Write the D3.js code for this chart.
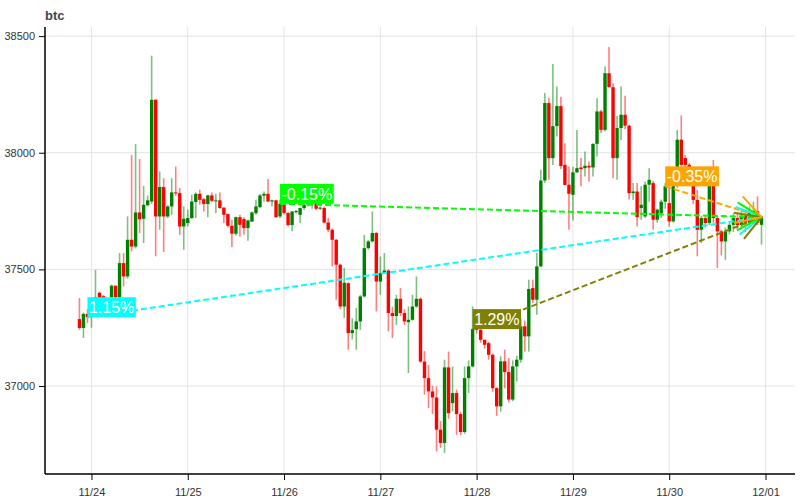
<!DOCTYPE html>
<html><head><meta charset="utf-8">
<script src="https://cdn.jsdelivr.net/npm/d3@7"></script>
<style>body{margin:0;background:#fff;}svg{display:block;font-family:"Liberation Sans",Arial,sans-serif;}</style>
</head><body>
<svg id="chart" width="800" height="500"></svg>
<script>
// hourly candles starting 2023-11-23 21:00 UTC
const startHour = [2023, 10, 23, 21];
const open = [37287,37249,37309,37295,37350,37400,37385,37370,37381,37430,37381,37527,37470,37627,37598,37744,37717,37775,37791,38227,37727,37853,37727,37770,37830,37827,37684,37699,
37720,37789,37824,37801,37780,37817,37794,37796,37765,37737,37687,37653,37724,37716,37677,37705,37741,37767,37816,37824,37791,37796,37727,37781,
37742,37690,37745,37734,37763,37775,37787,37790,37760,37763,37701,37670,37627,37520,37341,37441,37227,37244,37277,37384,37591,37620,37656,
37448,37484,37495,37313,37300,37374,37313,37274,37284,37341,37374,37105,37034,36977,36951,36813,36756,37080,36927,36970,36880,36803,37034,37084,
37246,37241,37198,37184,37134,36991,36913,37106,37060,36942,37084,37113,37256,37213,37420,37370,37513,37881,38213,37977,38114,38200,37948,37863,37820,
37916,37937,37934,37944,37937,38038,38177,38098,38341,38281,37977,38106,38163,38116,37827,37834,
37763,37727,37863,37870,37713,37741,37790,37784,37706,37863,38056,37977,37948,37899,37798,37670,37720,37699,37884,37720,37663,37620,37663,37691,37720,37690,37730,37700,37745,37750,37691];
const high = [37377,37315,37330,37370,37498,37405,37390,37378,37435,37432,37570,37570,37727,37991,38037,37973,37858,37817,38416,38230,37920,37891,37775,37891,37941,37849,37770,37756,
37820,37830,37841,37806,37820,37830,37824,37830,37765,37740,37713,37726,37734,37724,37713,37748,37798,37823,37834,37888,37798,37798,37800,37790,
37745,37750,37755,37765,37790,37820,37815,37795,37770,37770,37720,37675,37630,37525,37507,37445,37290,37334,37390,37648,37625,37748,37660,
37555,37570,37500,37340,37391,37420,37330,37341,37391,37470,37380,37150,37090,37000,36998,36850,37113,37148,37084,36985,36890,37084,37110,37341,
37280,37250,37200,37190,37140,36995,37127,37156,37120,37110,37130,37290,37280,37456,37456,37570,37927,38256,38236,38380,38284,38240,38041,37941,37940,
38098,37977,38005,37963,38041,38234,38184,38370,38453,38298,38158,38284,38244,38120,37870,37870,
37856,37877,37934,37880,37760,37800,37870,37856,37870,38098,38160,37990,37956,37930,37841,37730,37730,37900,37969,37730,37670,37680,37700,37740,37745,37760,37740,37770,37790,37813,37730];
const low = [37241,37206,37270,37250,37330,37340,37330,37330,37370,37370,37375,37427,37460,37577,37590,37655,37613,37770,37780,37556,37670,37574,37720,37734,37815,37648,37584,37684,
37716,37720,37777,37748,37724,37789,37741,37760,37699,37680,37596,37645,37641,37648,37623,37703,37734,37763,37791,37789,37770,37720,37720,37735,
37685,37663,37740,37699,37755,37770,37760,37755,37755,37698,37660,37513,37370,37330,37292,37156,37200,37156,37241,37380,37585,37615,37320,
37391,37480,37234,37206,37262,37300,37262,37056,37280,37335,37100,36963,36906,36880,36720,36735,36713,36860,36891,36791,36790,36795,36970,37080,
37225,37185,37160,37113,36975,36872,36890,36990,36930,36935,37020,37100,37148,37148,37356,37306,37510,37870,37884,37948,38070,37930,37860,37670,37710,
37913,37856,37898,37877,37898,37984,38084,38091,38281,37891,37884,38055,38101,37800,37798,37684,
37713,37720,37790,37670,37700,37720,37760,37684,37700,37850,37940,37900,37870,37780,37556,37613,37680,37690,37700,37506,37560,37541,37650,37660,37670,37680,37660,37690,37700,37690,37606];
const close = [37249,37309,37295,37350,37381,37375,37370,37365,37430,37381,37527,37470,37627,37598,37744,37715,37777,37796,38227,37727,37853,37727,37770,37830,37827,37684,37717,37720,
37791,37824,37798,37780,37817,37794,37796,37763,37734,37687,37653,37724,37691,37677,37710,37744,37770,37817,37824,37791,37796,37724,37781,37742,
37690,37748,37750,37763,37777,37787,37790,37760,37765,37701,37670,37627,37520,37341,37443,37227,37240,37277,37384,37591,37620,37656,37448,
37484,37495,37313,37300,37374,37313,37277,37284,37341,37374,37105,37034,36977,36951,36813,36756,37080,36884,36970,36880,36803,37034,37084,37244,
37241,37198,37177,37134,36991,36913,37106,37060,36942,37084,37113,37256,37213,37416,37370,37513,37881,38213,37977,38114,38200,37943,37862,37824,37916,
37934,37930,37944,37937,38038,38177,38098,38341,38281,37977,38106,38163,38116,37827,37834,37724,
37777,37863,37884,37713,37756,37790,37856,37706,37863,38056,37948,37948,37899,37798,37670,37720,37699,37884,37720,37663,37620,37663,37691,37720,37690,37730,37700,37745,37750,37700,37724];

// trend annotations: start candle index -> last candle
const annoStart = [2, 50, 98, 146];
const annoLabel = ["1.15%", "-0.15%", "1.29%", "-0.35%"];
const annoColor = ["#00ffff", "#00ff00", "#808000", "#ffa500"];

const xTickDates = ["11/24","11/25","11/26","11/27","11/28","11/29","11/30","12/01"];
const yTicks = [37000, 37500, 38000, 38500];
const title = "btc";

const svg = d3.select("#chart");
const H = 3600 * 1000;
const t0 = Date.UTC(startHour[0], startHour[1], startHour[2], startHour[3]);
const data = open.map((o, i) => ({t: new Date(t0 + i * H), o, h: high[i], l: low[i], c: close[i]}));

const x = d3.scaleUtc()
  .domain([new Date(Date.UTC(2023,10,23,12,25)), new Date(Date.UTC(2023,11,1,7,21))])
  .range([45, 795]);
const y = d3.scaleLinear().domain([36623, 38539]).range([474, 27]);

const xTickVals = xTickDates.map(s => { const [m, d] = s.split("/").map(Number); return new Date(Date.UTC(2023, m - 1, d)); });

// grid
const grid = svg.append("g");
grid.selectAll("line.v").data(xTickVals).join("line")
  .attr("x1", d => x(d)).attr("x2", d => x(d)).attr("y1", 27).attr("y2", 474)
  .attr("stroke", "#e3e3e3").attr("stroke-width", 1);
grid.selectAll("line.h").data(yTicks).join("line")
  .attr("x1", 45).attr("x2", 795).attr("y1", d => y(d)).attr("y2", d => y(d))
  .attr("stroke", "#e3e3e3").attr("stroke-width", 1);

// candles
const bw = 3.4;
const cg = svg.append("g");
cg.selectAll("line.w").data(data).join("line")
  .attr("x1", d => x(d.t)).attr("x2", d => x(d.t))
  .attr("y1", d => y(d.h)).attr("y2", d => y(d.l))
  .attr("stroke", d => d.c >= d.o ? "#008000" : "#ff0000")
  .attr("stroke-opacity", 0.5).attr("stroke-width", 1.6);
cg.selectAll("rect").data(data).join("rect")
  .attr("x", d => x(d.t) - bw / 2).attr("width", bw)
  .attr("y", d => y(Math.max(d.o, d.c)))
  .attr("height", d => Math.max(1, Math.abs(y(d.o) - y(d.c))))
  .attr("fill", d => d.c >= d.o ? "#008000" : "#ff0000");

// axes
const yAxis = svg.append("g").attr("transform", "translate(45,0)")
  .call(d3.axisLeft(y).tickValues(yTicks).tickFormat(d3.format("d")).tickSize(6).tickPadding(4).tickSizeOuter(0));
const xAxis = svg.append("g").attr("transform", "translate(0,474)")
  .call(d3.axisBottom(x).tickValues(xTickVals).tickFormat((d, i) => xTickDates[i]).tickSize(6).tickPadding(8).tickSizeOuter(0));
[yAxis, xAxis].forEach(a => {
  a.selectAll("text").attr("font-size", 11).attr("fill", "#333").attr("font-family", "'Liberation Sans',Arial,sans-serif");
  a.select(".domain").attr("stroke", "#000").attr("stroke-width", 1.5);
  a.selectAll(".tick line").attr("stroke", "#000");
});
yAxis.select(".domain").attr("d", `M0,27V474`);
xAxis.select(".domain").attr("d", `M45,0H795`);

// title
svg.append("text").attr("x", 45).attr("y", 20).text(title)
  .attr("font-size", 13).attr("font-weight", "bold").attr("fill", "#444");

// trend lines
const last = data[data.length - 1];
const ex = x(last.t), ey = y(last.c);
const ag = svg.append("g");
annoStart.forEach((si, i) => {
  const s = data[si];
  const sx = x(s.t), sy = y(s.c);
  ag.append("line").attr("x1", sx).attr("y1", sy).attr("x2", ex).attr("y2", ey)
    .attr("stroke", annoColor[i]).attr("stroke-width", 2).attr("stroke-dasharray", "6,3");
});
annoStart.forEach((si, i) => {
  const s = data[si];
  const sx = x(s.t), sy = y(s.c);
  const ang = Math.atan2(ey - sy, ex - sx);
  const L = 28, a = Math.PI / 6;
  const p1 = [ex - L * Math.cos(ang - a), ey - L * Math.sin(ang - a)];
  const p2 = [ex - L * Math.cos(ang + a), ey - L * Math.sin(ang + a)];
  ag.append("path").attr("d", `M${p1[0]},${p1[1]}L${ex},${ey}L${p2[0]},${p2[1]}`)
    .attr("fill", "none").attr("stroke", annoColor[i]).attr("stroke-width", 2);
});
annoStart.forEach((si, i) => {
  const s = data[si];
  const sx = x(s.t), sy = y(s.c);
  const g = ag.append("g");
  const t = g.append("text").attr("x", sx + 1.5).attr("y", sy - 4).text(annoLabel[i])
    .attr("font-size", 16).attr("fill", "#fff").attr("font-family", "'Liberation Sans',Arial,sans-serif");
  const w = t.node().getComputedTextLength();
  g.insert("rect", "text").attr("x", sx).attr("y", sy - 20).attr("width", w + 3).attr("height", 20)
    .attr("fill", annoColor[i]);
});
</script>
</body></html>
